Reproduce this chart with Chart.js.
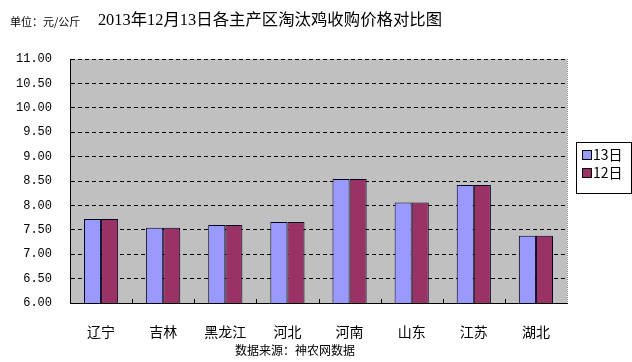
<!DOCTYPE html>
<html>
<head>
<meta charset="utf-8">
<script src="https://cdn.jsdelivr.net/npm/chart.js@4.4.1/dist/chart.umd.min.js"></script>
<style>
  body { margin: 0; background: #fff; }
  #chart { display: block; }
</style>
</head>
<body>
<canvas id="chart" width="632" height="362"></canvas>
<script>
// data
const regions = ['辽宁', '吉林', '黑龙江', '河北', '河南', '山东', '江苏', '湖北'];
const price13 = [7.72, 7.54, 7.60, 7.66, 8.54, 8.06, 8.42, 7.38];
const price12 = [7.72, 7.54, 7.60, 7.66, 8.54, 8.06, 8.42, 7.38];
const seriesNames = ['13日', '12日'];
const yMin = 6, yMax = 11, yStep = 0.5;

const titleText = '2013年12月13日各主产区淘汰鸡收购价格对比图';
const unitText = '单位：元/公斤';
const sourceText = '数据来源：神农网数据';

const CJK = "'Noto Sans CJK SC', sans-serif";

// background, plot fill, extra text and the boxed legend
const decor = {
    id: 'decor',
    beforeDraw(chart) {
        const { ctx, chartArea: a } = chart;
        ctx.save();
        ctx.fillStyle = '#ffffff';
        ctx.fillRect(0, 0, chart.width, chart.height);
        ctx.fillStyle = '#c0c0c0';
        ctx.fillRect(a.left, a.top, a.right - a.left, a.bottom - a.top);
        ctx.restore();
    },
    afterDraw(chart) {
        const { ctx, chartArea: a } = chart;
        const xs = chart.scales.x;
        ctx.save();

        // dotted right edge of plot
        ctx.strokeStyle = '#808080';
        ctx.lineWidth = 1;
        ctx.setLineDash([1, 1]);
        ctx.beginPath();
        ctx.moveTo(a.right + 0.5, a.top);
        ctx.lineTo(a.right + 0.5, a.bottom);
        ctx.stroke();
        ctx.setLineDash([]);

        // small inward ticks between categories
        const step = xs.getPixelForValue(1) - xs.getPixelForValue(0);
        ctx.strokeStyle = '#000';
        for (let i = 1; i < regions.length; i++) {
            const x = Math.round(xs.getPixelForValue(i) - step / 2) + 0.5;
            ctx.beginPath();
            ctx.moveTo(x, a.bottom);
            ctx.lineTo(x, a.bottom - 4);
            ctx.stroke();
        }

        // texts
        ctx.fillStyle = '#000';
        ctx.textBaseline = 'middle';
        ctx.textAlign = 'left';
        ctx.font = '11px ' + CJK;
        ctx.fillText(unitText, 10, 22);

        ctx.textAlign = 'center';
        ctx.font = "16.4px 'Liberation Serif', " + CJK;
        ctx.fillText(titleText, 270, 21);

        ctx.font = '12px ' + CJK;
        ctx.fillText(sourceText, 295, 350);

        // legend
        ctx.strokeStyle = '#000';
        ctx.lineWidth = 1;
        ctx.strokeRect(576.5, 142.5, 55, 51);
        ctx.textAlign = 'left';
        ctx.font = '14px ' + CJK;
        chart.data.datasets.forEach((ds, i) => {
            const cy = 155 + i * 18;
            ctx.fillStyle = ds.backgroundColor;
            ctx.fillRect(583, cy - 4, 8, 8);
            ctx.strokeRect(582.5, cy - 4.5, 9, 9);
            ctx.fillStyle = '#000';
            ctx.fillText(ds.label, 593, cy);
        });
        ctx.restore();
    }
};

new Chart(document.getElementById('chart'), {
    type: 'bar',
    data: {
        labels: regions,
        datasets: [{
            label: seriesNames[0],
            data: price13,
            backgroundColor: '#9999ff',
            borderColor: '#000020',
            borderWidth: 1
        }, {
            label: seriesNames[1],
            data: price12,
            backgroundColor: '#993366',
            borderColor: '#000020',
            borderWidth: 1
        }]
    },
    options: {
        responsive: false,
        animation: false,
        devicePixelRatio: 1,
        layout: { padding: { top: 59, right: 65, bottom: 0, left: 0 } },
        datasets: {
            bar: { categoryPercentage: 0.55, barPercentage: 1.0 }
        },
        plugins: {
            legend: { display: false },
            title: { display: false },
            tooltip: { enabled: false }
        },
        scales: {
            x: {
                afterFit: s => { s.height = 59; },
                grid: { display: false },
                border: { display: true, color: '#000', width: 1 },
                ticks: {
                    color: '#000',
                    padding: 12,
                    font: { family: CJK, size: 14 },
                    maxRotation: 0
                }
            },
            y: {
                min: yMin,
                max: yMax,
                afterFit: s => { s.width = 70; },
                grid: { color: '#000', lineWidth: 1, drawTicks: false },
                border: { display: true, color: '#000', width: 1, dash: [4, 3] },
                ticks: {
                    stepSize: yStep,
                    color: '#000',
                    padding: 18,
                    font: { family: "'Liberation Mono', monospace", size: 12 },
                    callback: v => Number(v).toFixed(2)
                }
            }
        }
    },
    plugins: [decor]
});
</script>
</body>
</html>
